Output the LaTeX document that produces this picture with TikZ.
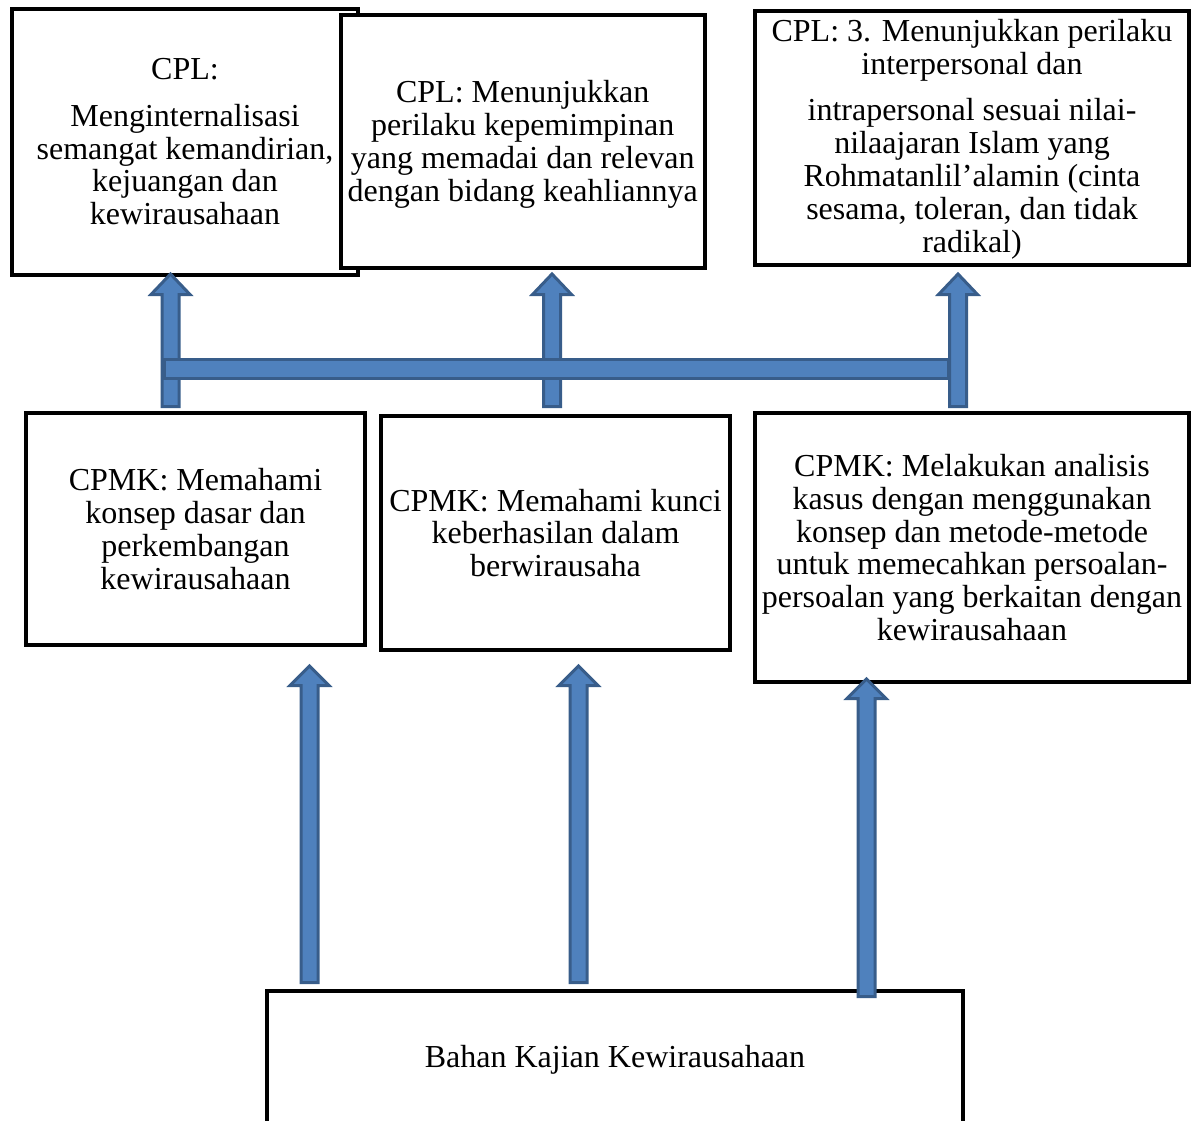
\documentclass[tikz,border=0pt]{standalone}
\usepackage{fontspec}
\setmainfont{Liberation Serif}
\definecolor{afill}{HTML}{4F81BD}
\definecolor{aline}{HTML}{385D8A}
\tikzset{
  box/.style={draw=black, line width=2pt, fill=white, align=center, inner sep=0pt,
    font=\fontsize{16}{16.4}\selectfont},
  txt/.style={align=center, inner sep=0pt, font=\fontsize{16}{16.4}\selectfont},
  blk/.style={fill=afill, draw=aline, line width=1.5pt, line join=miter},
}
\newcommand\blockup[4]{% x, bottom, headbase, tip
  \path[blk] (#1-8.5,#2) -- (#1-8.5,#3) -- (#1-19.5,#3) -- (#1,#4) -- (#1+19.5,#3)
    -- (#1+8.5,#3) -- (#1+8.5,#2) -- cycle;}
\begin{document}
\begin{tikzpicture}[x=0.5pt,y=-0.5pt]
\useasboundingbox (0,0) rectangle (1193,1120);
% top row
\node[box, minimum width=173pt, minimum height=132.75pt] (cpl1) at (185,141.75)
  {CPL:\\[7pt]Menginternalisasi\\semangat kemandirian,\\kejuangan dan\\kewirausahaan};
\node[box, minimum width=182.25pt, minimum height=126.75pt] (cpl2) at (522.75,141.25) {};
\node[txt] (cpl2t) at ([yshift=-1.5pt]cpl2.center)
  {CPL: Menunjukkan\\perilaku kepemimpinan\\yang memadai dan relevan\\dengan bidang keahliannya};
\node[box, minimum width=217pt, minimum height=127pt] (cpl3) at (972,138) {};
\node[txt] (cpl3t) at ([yshift=-0.5pt]cpl3.center)
  {CPL: 3. Menunjukkan perilaku\\interpersonal dan\\[7pt]intrapersonal sesuai nilai-\\nilaajaran Islam yang\\Rohmatanlil’alamin (cinta\\sesama, toleran, dan tidak\\radikal)};
% middle row
\node[box, minimum width=169.5pt, minimum height=116pt] (cpmk1) at (195.5,529)
  {CPMK: Memahami\\konsep dasar dan\\perkembangan\\kewirausahaan};
\node[box, minimum width=174.5pt, minimum height=117pt] (cpmk2) at (555.5,533)
  {CPMK: Memahami kunci\\keberhasilan dalam\\berwirausaha};
\node[box, minimum width=217pt, minimum height=134.5pt] (cpmk3) at (972,547.5)
  {CPMK: Melakukan analisis\\kasus dengan menggunakan\\konsep dan metode-metode\\untuk memecahkan persoalan-\\persoalan yang berkaitan dengan\\kewirausahaan};
% bottom
\node[box, minimum width=348pt, minimum height=66pt] (bahan) at (615,1057) {};
\node[txt] (bahant) at ([yshift=-1.5pt]bahan.center) {Bahan Kajian Kewirausahaan};
% block arrows
\blockup{170.5}{406.5}{294.5}{274}
\blockup{552}{406.5}{294.5}{274}
\path[blk] (164.5,359.5) rectangle (948.5,378.5);
\blockup{958}{406.5}{294.5}{274}
\blockup{309.5}{982.5}{685.5}{666}
\blockup{578.5}{982.5}{685.5}{666}
\blockup{866.5}{996.5}{698.5}{679}
\end{tikzpicture}
\end{document}
